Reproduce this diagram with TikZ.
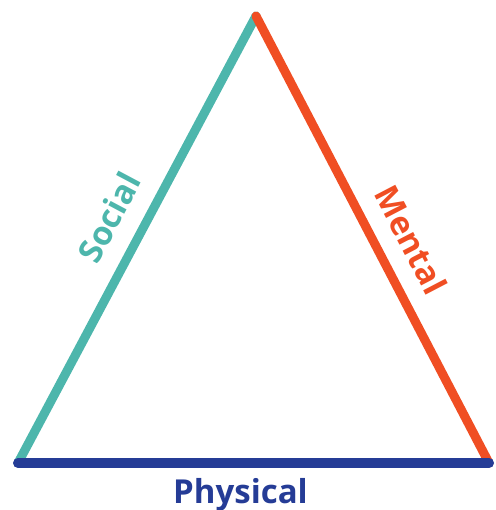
\documentclass[tikz,border=0pt]{standalone}
\usepackage{fontspec}
\setmainfont{Open Sans}
\usetikzlibrary{positioning}
\definecolor{socialteal}{HTML}{4DB6AC}
\definecolor{mentalred}{HTML}{F04E23}
\definecolor{physicalblue}{HTML}{253C96}
\begin{document}
\begin{tikzpicture}[
      x=1pt, y=-1pt,
      edge/.style={line width=9pt, line cap=round},
      label/.style={font=\fontsize{33}{33}\selectfont\bfseries, inner sep=0pt}
    ]
    \useasboundingbox (0,0) rectangle (495,510);
    \coordinate (top) at (256,16);
    \coordinate (left) at (18,463);
    \coordinate (right) at (489,463);

    \draw[edge, socialteal] (left) -- (top)
      node[label, pos=0.513, sloped, above=18pt, text=socialteal] (social) {Social};
    \draw[edge, mentalred] (top) -- (right)
      node[label, pos=0.536, sloped, above=17pt, text=mentalred] (mental) {Mental};
    \draw[edge, physicalblue, line width=10pt] (left) -- (right)
      node[label, midway, below=10pt, xshift=-13pt, text=physicalblue] (physical) {Physical};
\end{tikzpicture}
\end{document}
